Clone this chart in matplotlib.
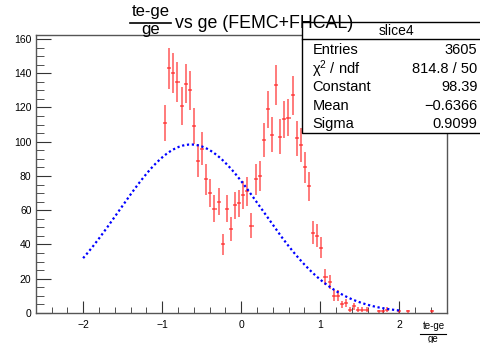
import numpy as np
import matplotlib
matplotlib.use("Agg")
import matplotlib.pyplot as plt
from matplotlib.patches import Rectangle

plt.rcParams["font.family"] = ["Liberation Sans", "DejaVu Sans"]
plt.rcParams["mathtext.fontset"] = "custom"
plt.rcParams["mathtext.rm"] = "Liberation Sans"
plt.rcParams["mathtext.it"] = "Liberation Sans"

# bin centres (100 bins from -2.6 to 2.6) and counts of slice4
bin_centers = [
    -0.962, -0.910, -0.858, -0.806, -0.754, -0.702, -0.650, -0.598, -0.546, -0.494,
    -0.442, -0.390, -0.338, -0.286, -0.234, -0.182, -0.130, -0.078, -0.026, 0.026,
    0.078, 0.130, 0.182, 0.234, 0.286, 0.338, 0.390, 0.442, 0.494, 0.546,
    0.598, 0.650, 0.702, 0.754, 0.806, 0.858, 0.910, 0.962, 1.014, 1.066,
    1.118, 1.170, 1.222, 1.274, 1.326, 1.378, 1.430, 1.482, 1.534, 1.586,
    1.742, 1.794, 1.846, 2.002, 2.106, 2.418,
]
counts = [
    111, 143, 140, 135, 121, 134, 130, 109, 89, 96,
    78, 70, 61, 65, 40, 61, 49, 63, 64, 69,
    71, 51, 78, 80, 101, 119, 104, 133, 103, 113,
    114, 127, 102, 98, 85, 74, 47, 45, 38, 21,
    18, 10, 10, 5, 6, 2, 4, 2, 2, 2,
    1, 1, 2, 1, 1, 1,
]
bin_width = 0.052

# gaus fit result
fit_constant = 98.39
fit_mean = -0.6366
fit_sigma = 0.9099
fit_range = (-2.0, 2.0)

stats_labels = ["Entries", "\u03c7$^{2}$ / ndf", "Constant", "Mean", "Sigma"]
stats_values = ["3605", "814.8 / 50", "98.39", "\u22120.6366", "0.9099"]

W, H = 481, 343
fig = plt.figure(figsize=(W / 100, H / 100), dpi=100)
ax = fig.add_axes([35.7 / W, 1 - 313 / H, (446.7 - 35.7) / W, (313 - 34.7) / H])

x = np.array(bin_centers)
y = np.array(counts, dtype=float)
err = np.sqrt(y)
ax.errorbar(x, y, yerr=err, xerr=bin_width / 2, fmt="none",
            ecolor="#ff2020", elinewidth=1.1, alpha=0.75, capsize=0)

xf = np.linspace(fit_range[0], fit_range[1], 300)
yf = fit_constant * np.exp(-0.5 * ((xf - fit_mean) / fit_sigma) ** 2)
ax.plot(xf, yf, color="blue", lw=1.6, linestyle=(0, (1, 1.2)))

ax.set_xlim(-2.6, 2.6)
ax.set_ylim(0, 162.5)
ax.set_xticks([-2, -1, 0, 1, 2])
ax.set_xticks(np.arange(-2.6, 2.61, 0.2), minor=True)
ax.set_yticks(np.arange(0, 161, 20))
ax.set_yticks(np.arange(0, 161, 5), minor=True)
ax.tick_params(axis="both", which="both", direction="in", color="#333333",
               labelsize=7.5)
ax.tick_params(axis="x", which="major", length=9, pad=5)
ax.tick_params(axis="x", which="minor", length=4.5)
ax.tick_params(axis="y", which="major", length=11, pad=3)
ax.tick_params(axis="y", which="minor", length=5.5)
ax.tick_params(top=False, right=False, which="both")
for s in ax.spines.values():
    s.set_color("#555555")
    s.set_linewidth(1.0)

# overlay in pixel coordinates for title, stats box and x label
ov = fig.add_axes([0, 0, 1, 1])
ov.set_xlim(0, W)
ov.set_ylim(H, 0)
ov.axis("off")

ov.add_patch(Rectangle((302.5, 22), 180, 110.5, facecolor="white",
                       edgecolor="black", lw=1.0, zorder=2))
ov.plot([302.5, 481], [38.5, 38.5], color="black", lw=1.0, zorder=3)
ov.text(396.5, 31, "slice4", ha="center", va="center", fontsize=10, zorder=4)
row_y = [50, 69, 87, 106, 124]
for lab, val, ry in zip(stats_labels, stats_values, row_y):
    ov.text(312.5, ry, lab, ha="left", va="center", fontsize=10.5, zorder=4)
    ov.text(477.5, ry, val, ha="right", va="center", fontsize=10.5, zorder=4)

# title with a fraction
ov.text(150.5, 11.5, "te-ge", ha="center", va="center", fontsize=12, zorder=5)
ov.plot([130, 171], [22.5, 22.5], color="black", lw=1.2, zorder=5)
ov.text(150.5, 29.5, "ge", ha="center", va="center", fontsize=12, zorder=5)
ov.text(175.5, 23.5, "vs ge (FEMC+FHCAL)", ha="left", va="center",
        fontsize=12.8, zorder=5)

# x axis label fraction
ov.text(433.5, 326, "te-ge", ha="center", va="center", fontsize=7, zorder=5)
ov.plot([420.5, 446.5], [333.5, 333.5], color="black", lw=0.8, zorder=5)
ov.text(433.5, 338.5, "ge", ha="center", va="center", fontsize=7, zorder=5)

fig.savefig("out.png", dpi=100)
